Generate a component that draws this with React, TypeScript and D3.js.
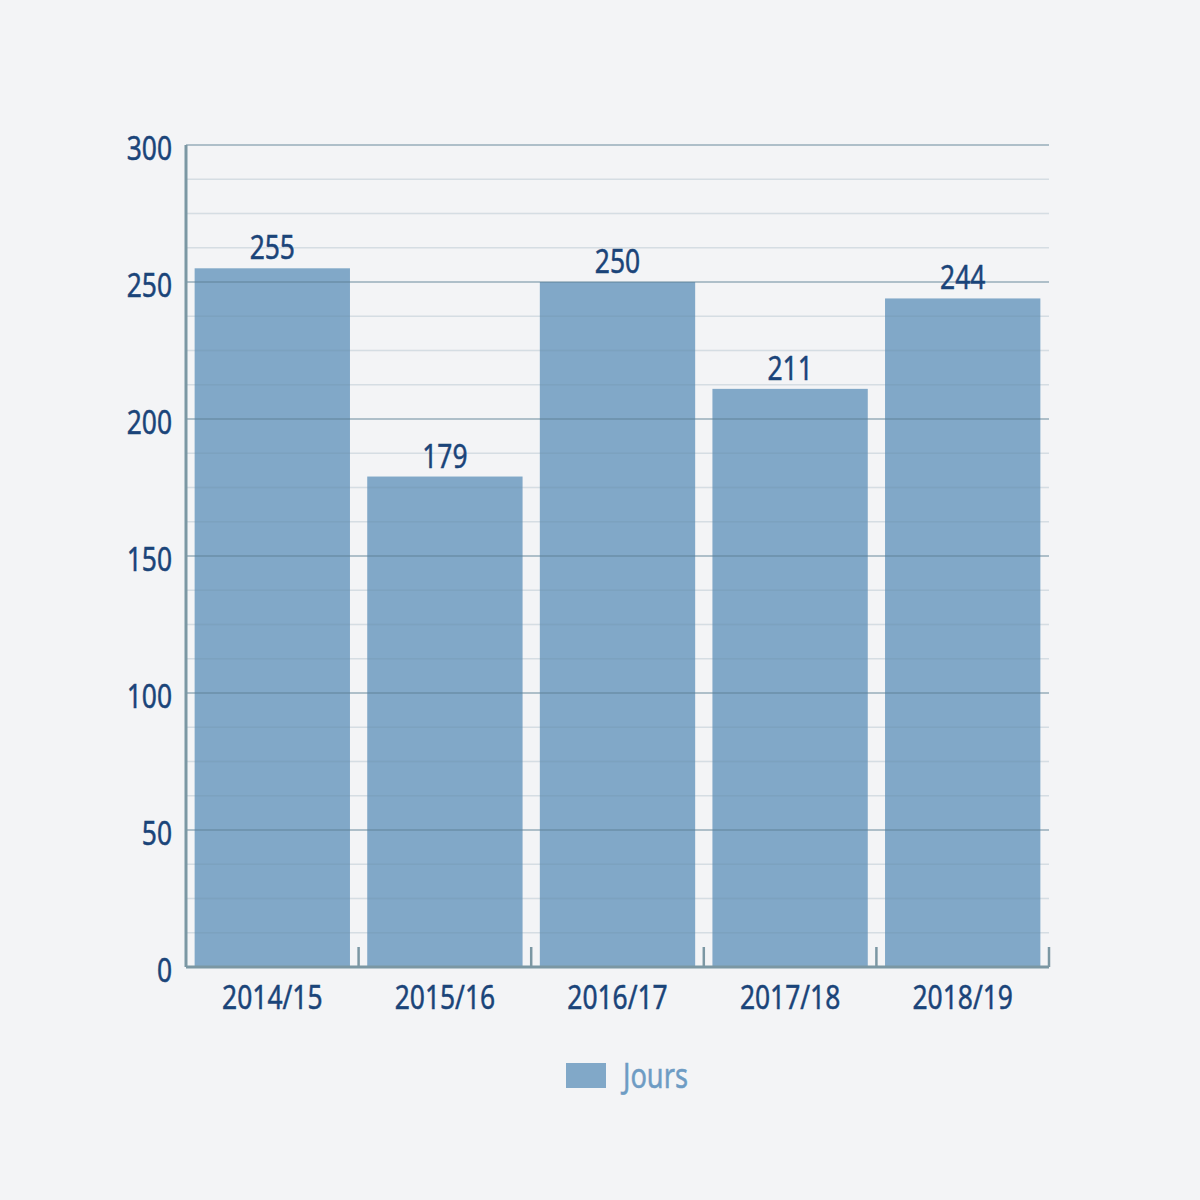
import React from "react";
import * as d3 from "d3";

const categories = ["2014/15", "2015/16", "2016/17", "2017/18", "2018/19"];
const values = [255, 179, 250, 211, 244];
const yTicks = [0, 50, 100, 150, 200, 250, 300];
const seriesName = "Jours";

const font = "'Noto Sans', sans-serif";
const textColor = "#1a4479";

function T({ x, y, anchor = "middle", children, fill = textColor, size = 33 }: any) {
  return (
    <text transform={`translate(${x},${y}) scale(0.8,1)`} textAnchor={anchor} fontFamily={font} fontSize={size}
      fill={fill} stroke={fill} strokeWidth={0.5}>
      {children}
    </text>
  );
}

export default function App() {
  const W = 1200, H = 1200;
  const left = 186, right = 1049, top = 145, bottom = 967;
  const x = d3.scaleBand<string>().domain(categories).range([left, right]).paddingInner(0.1).paddingOuter(0.05);
  const xb = d3.scaleBand<string>().domain(categories).range([left, right]);
  const y = d3.scaleLinear().domain([0, 300]).range([bottom, top]);
  const minor = d3.range(0, 300.01, 12.5);
  return (
    <svg width={W} height={H} style={{ display: "block", position: "absolute", left: 0, top: 0 }}>
      <rect width={W} height={H} fill="#f3f4f6" />
      {values.map((v, i) => (
        <rect key={i} x={x(categories[i])} y={y(v)} width={x.bandwidth()} height={bottom - y(v)} fill="#81a8c8" />
      ))}
      {minor.map((t) => (
        <line key={t} x1={left} x2={right} y1={y(t)} y2={y(t)}
          stroke={t % 50 === 0 ? "#5a7f93" : "#6f8f9e"} strokeOpacity={t % 50 === 0 ? 0.45 : 0.22} strokeWidth={t % 50 === 0 ? 2 : 1.5} />
      ))}
      <line x1={left} x2={left} y1={top} y2={bottom} stroke="#7b97a3" strokeWidth={3} />
      <line x1={left} x2={right} y1={bottom} y2={bottom} stroke="#7b97a3" strokeWidth={3} />
      {categories.map((c, i) => {
        const bx = (xb(c) as number) + xb.bandwidth();
        return <line key={"t" + i} x1={bx} x2={bx} y1={bottom - 20} y2={bottom} stroke="#7b97a3" strokeWidth={2.5} />;
      })}
      {yTicks.map((t) => (
        <T key={"y" + t} x={172} y={y(t) + 15} anchor="end">{t}</T>
      ))}
      {categories.map((c, i) => (
        <T key={"x" + i} x={(xb(c) as number) + xb.bandwidth() / 2} y={1009}>{c}</T>
      ))}
      {values.map((v, i) => (
        <T key={"v" + i} x={(x(categories[i]) as number) + x.bandwidth() / 2} y={y(v) - 9}>{v}</T>
      ))}
      <rect x={566} y={1063} width={40} height={25} fill="#81a8c8" />
      <T x={623} y={1088} anchor="start" fill="#6e9cc4" size={34}>{seriesName}</T>
    </svg>
  );
}
